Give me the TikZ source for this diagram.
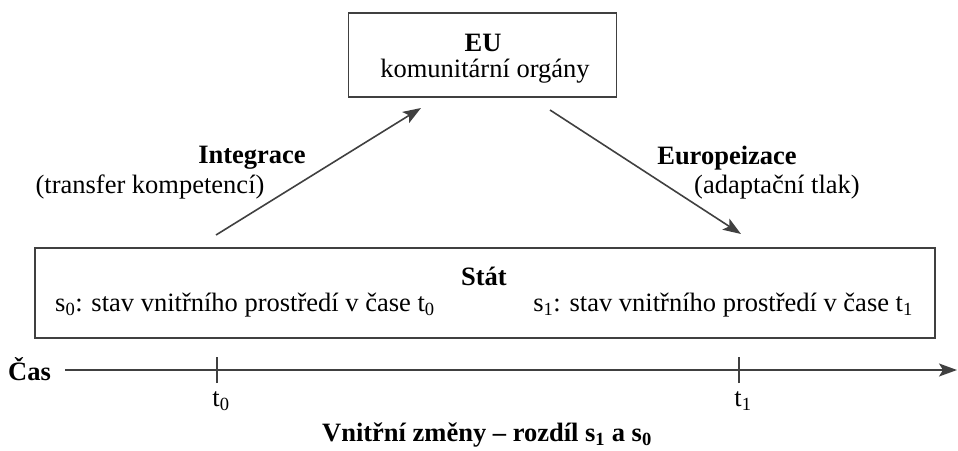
\documentclass[tikz,border=0pt]{standalone}
\usepackage{fontspec}
\setmainfont{Liberation Serif}
\usetikzlibrary{arrows.meta}
\begin{document}
\begin{tikzpicture}[x=1pt,y=-1pt,
  every node/.style={font=\fontsize{26.5}{30}\selectfont, inner sep=0pt},
  box/.style={draw=black!75, line width=1.6pt},
  arr/.style={draw=black!75, line width=1.6pt, -{Stealth[length=18pt,width=13pt,inset=4pt]}},
  tick/.style={draw=black!75, line width=1.6pt},
  lbl/.style={font=\fontsize{26.5}{30}\selectfont\bfseries}]
\useasboundingbox (0,0) rectangle (958,450);
% boxes
\node[box, minimum width=268pt, minimum height=84pt] (eu) at (482.5,55) {};
\node[lbl] (eut) at (483,43) {EU};
\node (eus) at (485,71) {komunitární orgány};
\node[box, minimum width=900pt, minimum height=90pt] (stat) at (485,293) {};
\node[lbl] (statt) at (484,276) {Stát};
\node[anchor=west] (s0) at (55,305) {s\textsubscript{0}: stav vnitřního prostředí v čase t\textsubscript{0}};
\node[anchor=east] (s1) at (913,305) {s\textsubscript{1}: stav vnitřního prostředí v čase t\textsubscript{1}};
% arrows
\coordinate (a0) at (216,235);
\coordinate (a1) at (421,108);
\coordinate (b0) at (550,110);
\coordinate (b1) at (741,234);
\draw[arr] (a0) -- (a1);
\draw[arr] (b0) -- (b1);
\node[lbl] (integ) at (252,158) {Integrace};
\node (transf) at (150,187) {(transfer kompetencí)};
\node[lbl] (europ) at (727,158) {Europeizace};
\node (adapt) at (777,187) {(adaptační tlak)};
% time axis
\node[lbl, anchor=west] (cas) at (8,369) {Čas};
\coordinate (ax0) at (65,370);
\coordinate (ax1) at (957,370);
\draw[arr] (ax0) -- (ax1);
\coordinate (t0) at (217,370);
\coordinate (t1) at (739,370);
\draw[tick] ([yshift=-13pt]t0) -- ([yshift=13pt]t0);
\draw[tick] ([yshift=-13pt]t1) -- ([yshift=13pt]t1);
\node (t0l) at (221,401) {t\textsubscript{0}};
\node (t1l) at (743,401) {t\textsubscript{1}};
\node[lbl] (zm) at (487,435) {Vnitřní změny – rozdíl s\textsubscript{1} a s\textsubscript{0}};
\end{tikzpicture}
\end{document}
